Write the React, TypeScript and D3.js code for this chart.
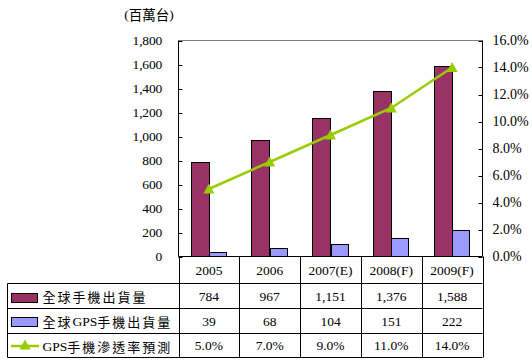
import React from "react";
import * as d3 from "d3";

const categories = ["2005", "2006", "2007(E)", "2008(F)", "2009(F)"];
const globalPhones = [784, 967, 1151, 1376, 1588];
const gpsPhones = [39, 68, 104, 151, 222];
const gpsRate = [0.05, 0.07, 0.09, 0.11, 0.14];
const leftTicks = [0, 200, 400, 600, 800, 1000, 1200, 1400, 1600, 1800];
const rightTicks = [0, 0.02, 0.04, 0.06, 0.08, 0.1, 0.12, 0.14, 0.16];
const seriesNames = ["全球手機出貨量", "全球GPS手機出貨量", "GPS手機滲透率預測"];

const RED = "#993366";
const BLUE = "#9999FF";
const GREEN = "#99CC00";
const SERIF = "'Liberation Serif', 'Times New Roman', serif";
const CJK = "'Noto Sans CJK TC', 'Noto Sans CJK SC', sans-serif";

function MixedText({ text, x, y }: { text: string; x: number; y: number }) {
  const parts = text.match(/[\x00-\x7F]+|[^\x00-\x7F]+/g) || [];
  return (
    <text x={x} y={y} dominantBaseline="central" fontSize={13}>
      {parts.map((p, i) =>
        /^[\x00-\x7F]+$/.test(p) ? (
          <tspan key={i} fontFamily={SERIF} fontSize={13.5}>{p}</tspan>
        ) : (
          <tspan key={i} fontFamily={CJK} letterSpacing={2}>{p}</tspan>
        )
      )}
    </text>
  );
}

export default function App() {
  const W = 532, H = 362;
  const left = 178.5, right = 482.5, top = 40.5, bottom = 256.5;
  const x = d3.scaleBand<string>().domain(categories).range([left, right]).padding(0);
  const yL = d3.scaleLinear().domain([0, 1800]).range([bottom, top]);
  const yR = d3.scaleLinear().domain([0, 0.16]).range([bottom, top]);
  const bw = x.bandwidth() * 0.3;
  const cx = (c: string) => (x(c) as number) + x.bandwidth() / 2;

  const line = d3
    .line<number>()
    .x((_, i) => cx(categories[i]))
    .y((d) => yR(d));

  const rowY = [256.5, 283.5, 308.5, 333.5, 357.5];
  const tableLeft = 7.5;
  const tri = (px: number, py: number, s = 5.5) =>
    `M${px},${py - s}L${px + s},${py + s * 0.8}L${px - s},${py + s * 0.8}Z`;

  const fmt = d3.format(",");
  const pct = d3.format(".1%");
  const rows = [globalPhones.map(fmt), gpsPhones.map(fmt), gpsRate.map(pct)];

  const boundaries = categories.map((c) => x(c) as number).concat([right]);

  return (
    <svg
      width={W}
      height={H}
      style={{ position: "absolute", left: 0, top: 0, background: "#fff" }}
    >
      <rect width={W} height={H} fill="#fff" />
      {/* unit label */}
      <text x={149} y={14} textAnchor="middle" dominantBaseline="central" fontSize={13.5}>
        <tspan fontFamily={SERIF}>(</tspan>
        <tspan fontFamily={CJK}>百萬台</tspan>
        <tspan fontFamily={SERIF}>)</tspan>
      </text>

      {/* plot frame top */}
      <line x1={left} x2={right} y1={top} y2={top} stroke="#808080" strokeWidth={1} />

      {/* bars */}
      {categories.map((c, i) => (
        <g key={c}>
          <rect
            x={Math.round(cx(c) - bw) + 0.5}
            y={Math.round(yL(globalPhones[i])) + 0.5}
            width={Math.round(bw)}
            height={bottom - Math.round(yL(globalPhones[i])) - 0.5}
            fill={RED}
            stroke="#000"
            strokeWidth={1}
          />
          <rect
            x={Math.round(cx(c)) + 0.5}
            y={Math.round(yL(gpsPhones[i])) + 0.5}
            width={Math.round(bw) - 1}
            height={bottom - Math.round(yL(gpsPhones[i])) - 0.5}
            fill={BLUE}
            stroke="#000"
            strokeWidth={1}
          />
        </g>
      ))}

      {/* line */}
      <path d={line(gpsRate) || ""} fill="none" stroke={GREEN} strokeWidth={2.5} />
      {gpsRate.map((v, i) => (
        <path key={i} d={tri(cx(categories[i]), yR(v))} fill={GREEN} />
      ))}

      {/* left axis */}
      <line x1={left} x2={left} y1={top} y2={bottom} stroke="#000" />
      {leftTicks.map((t) => (
        <g key={t}>
          <line x1={left} x2={left + 4} y1={Math.round(yL(t)) + 0.5} y2={Math.round(yL(t)) + 0.5} stroke="#000" />
          <text
            x={162}
            y={yL(t)}
            textAnchor="end"
            dominantBaseline="central"
            fontFamily={SERIF}
            fontSize={13.5}
            letterSpacing={-0.2}
          >
            {fmt(t)}
          </text>
        </g>
      ))}

      {/* right axis */}
      <line x1={right} x2={right} y1={top} y2={bottom} stroke="#000" />
      {rightTicks.map((t) => (
        <g key={t}>
          <line x1={right - 4} x2={right} y1={Math.round(yR(t)) + 0.5} y2={Math.round(yR(t)) + 0.5} stroke="#000" />
          <text
            x={492.5}
            y={yR(t)}
            textAnchor="start"
            dominantBaseline="central"
            fontFamily={SERIF}
            fontSize={14}
          >
            {pct(t)}
          </text>
        </g>
      ))}

      {/* data table */}
      <line x1={left} x2={right} y1={rowY[0]} y2={rowY[0]} stroke="#000" />
      {rowY.slice(1).map((ry, i) => (
        <line key={i} x1={tableLeft} x2={right} y1={ry} y2={ry} stroke="#000" />
      ))}
      <line x1={tableLeft} x2={tableLeft} y1={rowY[1]} y2={rowY[4]} stroke="#000" />
      {boundaries.map((bx, i) => (
        <line
          key={i}
          x1={Math.round(bx) + 0.5}
          x2={Math.round(bx) + 0.5}
          y1={rowY[0]}
          y2={rowY[4]}
          stroke="#000"
        />
      ))}
      {categories.map((c) => (
        <text
          key={c}
          x={cx(c)}
          y={(rowY[0] + rowY[1]) / 2}
          textAnchor="middle"
          dominantBaseline="central"
          fontFamily={SERIF}
          fontSize={13.5}
        >
          {c}
        </text>
      ))}
      {rows.map((vals, r) =>
        vals.map((v, i) => (
          <text
            key={`${r}-${i}`}
            x={cx(categories[i])}
            y={(rowY[r + 1] + rowY[r + 2]) / 2}
            textAnchor="middle"
            dominantBaseline="central"
            fontFamily={SERIF}
            fontSize={13.5}
          >
            {v}
          </text>
        ))
      )}

      {/* legend keys */}
      <rect x={11.5} y={293.5} width={26} height={9} fill={RED} stroke="#000" />
      <rect x={11.5} y={317.5} width={26} height={9} fill={BLUE} stroke="#000" />
      <line x1={11} x2={39} y1={346} y2={346} stroke={GREEN} strokeWidth={2.5} />
      <path d={tri(25, 345)} fill={GREEN} />
      {seriesNames.map((n, i) => (
        <MixedText key={n} text={n} x={42.5} y={(rowY[i + 1] + rowY[i + 2]) / 2} />
      ))}
    </svg>
  );
}
